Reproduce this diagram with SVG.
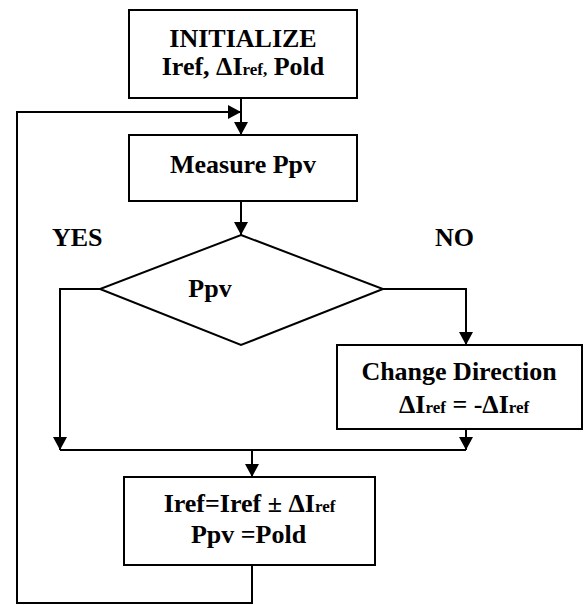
<svg xmlns="http://www.w3.org/2000/svg" width="584" height="605" viewBox="0 0 584 605">
<style>
.box{fill:#fff;stroke:#000;stroke-width:2}
.ln{fill:none;stroke:#000;stroke-width:2}
.sub{font-size:17px}
</style>
<defs>
<marker id="ah" markerUnits="userSpaceOnUse" markerWidth="14" markerHeight="14" refX="13" refY="7" orient="auto">
<path d="M0,0 L13,7 L0,14 z" fill="#000"/>
</marker>
</defs>
<rect width="584" height="605" fill="#fff"/>
<g id="connectors">
<path class="ln" d="M241,98 L241,135" marker-end="url(#ah)"/>
<path class="ln" d="M252,565 L252,603 L17,603 L17,112 L241,112" marker-end="url(#ah)"/>
<path class="ln" d="M241,201 L241,235" marker-end="url(#ah)"/>
<path class="ln" d="M100,289 L60,289 L60,450" marker-end="url(#ah)"/>
<path class="ln" d="M383,289 L466,289 L466,345" marker-end="url(#ah)"/>
<path class="ln" d="M466,429 L466,450" marker-end="url(#ah)"/>
<path class="ln" d="M60,450 L466,450"/>
<path class="ln" d="M252,450 L252,477" marker-end="url(#ah)"/>
</g>
<g font-family="Liberation Serif, Times New Roman, serif" font-weight="bold" font-size="26" fill="#000">
<g id="init">
<rect class="box" x="129" y="10" width="228" height="88"/>
<text x="243" y="47" text-anchor="middle">INITIALIZE</text>
<text x="243" y="75" text-anchor="middle">Iref, ΔI<tspan class="sub">ref,</tspan> Pold</text>
</g>
<g id="measure">
<rect class="box" x="129" y="135" width="228" height="66"/>
<text x="243" y="173" text-anchor="middle">Measure Ppv</text>
</g>
<g id="decision">
<polygon class="box" points="241,235 383,289 241,345 100,289"/>
<text x="210" y="297" text-anchor="middle">Ppv</text>
</g>
<g id="labels">
<text x="52" y="246">YES</text>
<text x="435" y="246">NO</text>
</g>
<g id="change">
<rect class="box" x="337" y="345" width="245" height="84"/>
<text x="459" y="380" text-anchor="middle">Change Direction</text>
<text x="399" y="413">ΔI<tspan class="sub">ref</tspan> = -ΔI<tspan class="sub">ref</tspan></text>
</g>
<g id="update">
<rect class="box" x="124" y="477" width="251" height="88"/>
<text x="249.5" y="512" text-anchor="middle">Iref=Iref ± ΔI<tspan class="sub">ref</tspan></text>
<text x="248.5" y="543" text-anchor="middle">Ppv =Pold</text>
</g>
</g>
</svg>
